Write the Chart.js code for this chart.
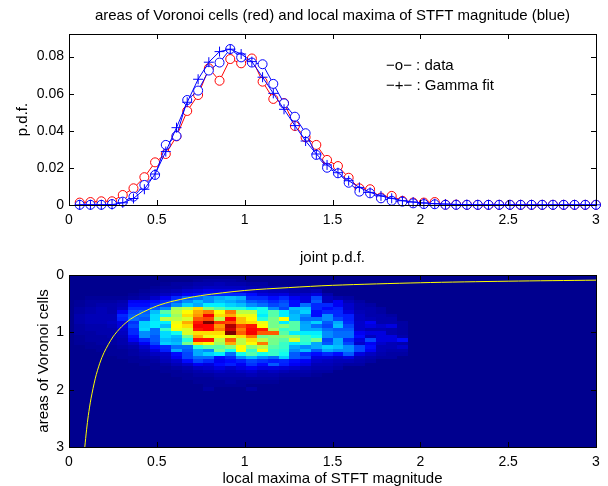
<!DOCTYPE html>
<html>
<head>
<meta charset="utf-8">
<title>Voronoi cells and STFT maxima</title>
<script src="https://cdn.jsdelivr.net/npm/chart.js@4/dist/chart.umd.min.js"></script>
<style>
  html, body { margin: 0; padding: 0; background: #fff; }
  canvas { position: absolute; left: 0; }
  #pdfChart { top: 0; }
  #jointChart { top: 240px; }
</style>
</head>
<body>
<canvas id="pdfChart" width="608" height="240"></canvas>
<canvas id="jointChart" width="608" height="246"></canvas>
<script>
// bin centres
const binCenters = [0.061,0.122,0.184,0.245,0.306,0.367,0.429,0.49,0.551,0.612,0.673,0.735,0.796,0.857,0.918,0.98,1.041,1.102,1.163,1.224,1.286,1.347,1.408,1.469,1.531,1.592,1.653,1.714,1.776,1.837,1.898,1.959,2.02,2.082,2.143,2.204,2.265,2.327,2.388,2.449,2.51,2.571,2.633,2.694,2.755,2.816,2.878,2.939,3];

const voronoiData = [0.0013,0.0016,0.002,0.002,0.0054,0.009,0.015,0.023,0.0275,0.037,0.0507,0.0593,0.0737,0.067,0.0787,0.0764,0.079,0.0665,0.0572,0.055,0.0426,0.0365,0.0324,0.0243,0.021,0.0147,0.009,0.0085,0.004,0.0049,0.0022,0.0013,0.0013,0.0016,0.0002,0.0002,0.0001,0.0001,0.0001,0.0001,0.0001,0.0001,0.0001,0.0001,0.0001,0.0001,0.0001,0.0001,0.0001];
const maximaData = [0.0001,0.0001,0.0001,0.0005,0.0018,0.0045,0.0108,0.0162,0.0324,0.0372,0.0566,0.0617,0.0725,0.0768,0.0841,0.0796,0.0768,0.0759,0.0653,0.0548,0.0476,0.0387,0.027,0.0201,0.0171,0.012,0.0072,0.0063,0.0036,0.0023,0.0018,0.0009,0.0005,0.0004,0.0001,0.0001,0.0001,0.0001,0.0001,0.0001,0.0001,0.0001,0.0001,0.0001,0.0001,0.0001,0.0001,0.0001,0.0001];
const gammaFit = [0.0001,0.0001,0.0001,0.0002,0.0012,0.0035,0.0085,0.0167,0.0288,0.0417,0.0554,0.0678,0.077,0.0827,0.084,0.0814,0.0773,0.0689,0.0602,0.0516,0.0428,0.0345,0.0275,0.0216,0.0174,0.0131,0.0095,0.0068,0.0049,0.0036,0.0023,0.0016,0.0011,0.0007,0.0005,0.0003,0.0002,0.0001,0.0001,0.0001,0.0001,0.0001,0.0001,0.0001,0.0001,0.0001,0.0001,0.0001,0.0001];

const xTicks = [0, 0.5, 1, 1.5, 2, 2.5, 3];
const pdfTicks = [0, 0.02, 0.04, 0.06, 0.08];
const areaTicks = [0, 1, 2, 3];
const legendLines = ['\u2212o\u2212 : data', '\u2212+\u2212 : Gamma fit'];

// yellow curve of the lower plot
const curveX = [0.09,0.1,0.11,0.125,0.15,0.175,0.2,0.25,0.3,0.35,0.4,0.5,0.6,0.75,1,1.25,1.5,2,2.5,3];
const curveY = [3,2.7,2.45,2.16,1.8,1.54,1.35,1.08,0.9,0.77,0.68,0.54,0.45,0.36,0.27,0.22,0.18,0.135,0.108,0.09];

// joint p.d.f., percent of the peak; a row per area bin, a value per magnitude bin, from the first bin on
const jointPdf = [
  [],
  [0,0,0,0,0,0,0,0,0,0,0,1,2,2,2,1],
  [0,0,0,0,0,0,0,0,1,2,2,3,3,4,3,3,2,2],
  [0,0,0,0,0,0,0,1,2,2,3,4,5,5,5,5,4,3,3,2,2,2],
  [0,0,0,0,0,0,1,2,3,4,6,7,9,8,8,7,6,5,4,4,3,3,4],
  [0,0,0,0,0,1,2,3,5,7,10,12,14,15,15,15,12,8,7,8,5,6,8,3],
  [0,1,1,1,1,2,3,6,10,15,20,22,25,28,30,28,15,15,12,15,10,8,18,5,3,2],
  [1,2,2,2,3,10,10,12,15,20,25,30,25,30,28,25,20,18,15,18,12,8,20,5,10,4,2],
  [1,2,3,3,4,12,12,15,18,25,32,28,35,35,32,30,25,22,18,20,12,22,15,15,10,6,3,2],
  [2,3,4,3,5,15,15,20,25,52,55,65,50,45,40,40,35,38,25,18,30,30,15,12,14,6,3,3,2],
  [2,3,4,3,10,18,20,30,45,55,62,70,75,62,75,55,55,38,45,35,28,32,12,15,15,8,4,3,2],
  [3,4,4,4,15,20,22,33,38,52,65,72,88,65,70,60,60,35,45,35,30,25,12,25,15,14,5,3,3,2],
  [3,4,4,4,14,22,20,33,55,55,58,78,80,55,87,68,62,40,48,62,30,22,22,25,18,14,5,4,3,3],
  [3,4,4,5,8,16,32,35,35,60,70,85,100,82,80,68,65,60,48,35,45,27,32,20,28,15,6,10,3,3,2],
  [2,3,3,4,8,18,32,35,30,62,65,88,87,72,95,80,85,62,48,50,45,28,22,18,30,18,6,8,6,8,2],
  [2,3,3,3,6,15,33,22,42,60,58,85,87,75,92,75,87,85,52,42,45,28,28,22,20,20,6,4,4,3,2],
  [2,2,3,3,5,15,25,22,33,38,58,65,65,65,100,78,88,78,78,45,35,35,35,25,22,22,10,8,8,3,2],
  [1,2,2,3,4,12,25,20,33,30,48,70,60,62,60,65,75,48,50,50,50,42,38,25,22,22,12,5,8,8,3],
  [1,2,2,2,3,10,15,20,30,28,40,85,85,55,78,55,65,55,48,45,58,42,48,18,28,15,8,18,8,8,12],
  [1,1,2,2,3,5,10,18,32,30,48,65,62,52,70,55,62,75,48,42,35,40,28,20,28,18,6,10,6,4,3],
  [0,1,1,1,2,3,6,12,15,22,22,40,45,45,50,62,50,55,45,42,28,25,28,32,30,25,18,12,4,4,6],
  [0,0,1,1,1,2,4,8,14,28,20,28,25,48,38,62,42,62,42,40,25,30,20,28,25,25,18,10,4,3,3],
  [0,0,0,1,1,2,3,5,6,12,18,28,32,35,22,38,45,38,42,38,20,15,12,15,12,20,8,5,3,2,2],
  [0,0,0,0,1,1,2,3,5,10,18,22,22,12,15,25,30,25,22,32,20,18,8,8,6,8,4,3,2,2],
  [0,0,0,0,0,1,1,2,4,6,12,18,15,10,12,14,18,16,14,15,12,10,6,5,4,4,3,2],
  [0,0,0,0,0,0,1,1,2,4,6,10,8,12,14,10,16,12,20,14,10,8,4,4,3,2,2],
  [0,0,0,0,0,0,0,1,1,2,3,5,6,8,6,8,10,8,8,7,6,4,3,3,2],
  [0,0,0,0,0,0,0,0,1,1,2,3,4,5,4,5,6,4,5,4,3,3,2,2],
  [0,0,0,0,0,0,0,0,0,1,1,2,2,3,3,3,4,3,3,2,2,2,1],
  [0,0,0,0,0,0,0,0,0,0,1,1,1,2,2,2,2,2,2,1,1],
  [0,0,0,0,0,0,0,0,0,0,0,1,1,1,2,1,1,1,1],
  [0,0,0,0,0,0,0,0,0,0,0,0,1,1,1,1],
  [0,0,0,0,0,0,0,0,0,0,0,0,2,0,0,0,2]
];
const binWidth = 3 / 49;

const fontFamily = '"Liberation Sans", Arial, sans-serif';
const plotLeft = 69;
const plotRightGap = 12;

// matlab "jet"
function jet(pct) {
  const v = pct / 100;
  const ramp = c => Math.round(255 * Math.max(0, Math.min(1, 1.5 - Math.abs(3.95 * v + 0.06 - c))));
  return `rgb(${ramp(3)},${ramp(2)},${ramp(1)})`;
}

// inward ticks on all four sides and the box, like a matlab axes
const boxAxes = {
  id: 'boxAxes',
  afterDraw(chart) {
    const { ctx, chartArea: a, scales } = chart;
    ctx.save();
    ctx.strokeStyle = '#000';
    ctx.lineWidth = 1;
    ctx.beginPath();
    scales.x.ticks.forEach(t => {
      const px = Math.round(scales.x.getPixelForValue(t.value)) + 0.5;
      ctx.moveTo(px, a.top); ctx.lineTo(px, a.top + 5);
      ctx.moveTo(px, a.bottom); ctx.lineTo(px, a.bottom - 5);
    });
    scales.y.ticks.forEach(t => {
      const py = Math.round(scales.y.getPixelForValue(t.value)) + 0.5;
      ctx.moveTo(a.left, py); ctx.lineTo(a.left + 5, py);
      ctx.moveTo(a.right, py); ctx.lineTo(a.right - 5, py);
    });
    ctx.stroke();
    ctx.strokeRect(a.left + 0.5, a.top + 0.5, a.right - a.left, a.bottom - a.top);
    ctx.restore();
  }
};

const legendText = {
  id: 'legendText',
  afterDraw(chart) {
    const { ctx, scales } = chart;
    ctx.save();
    ctx.font = '15px ' + fontFamily;
    ctx.fillStyle = '#000';
    ctx.textBaseline = 'middle';
    legendLines.forEach((line, i) => {
      ctx.fillText(line, scales.x.getPixelForValue(1.805), scales.y.getPixelForValue(0.075 - i * 0.0108));
    });
    ctx.restore();
  }
};

const heatCells = {
  id: 'heatCells',
  beforeDatasetsDraw(chart) {
    const { ctx, chartArea: a, scales } = chart;
    ctx.save();
    ctx.fillStyle = jet(0);
    ctx.fillRect(a.left, a.top, a.right - a.left, a.bottom - a.top);
    jointPdf.forEach((row, r) => {
      const y0 = Math.round(scales.y.getPixelForValue(r * binWidth));
      const y1 = Math.round(scales.y.getPixelForValue((r + 1) * binWidth));
      row.forEach((pct, c) => {
        if (!pct) return;
        const x0 = Math.round(scales.x.getPixelForValue((c + 0.5) * binWidth));
        const x1 = Math.round(scales.x.getPixelForValue((c + 1.5) * binWidth));
        ctx.fillStyle = jet(pct);
        ctx.fillRect(x0, y0, x1 - x0, y1 - y0);
      });
    });
    ctx.restore();
  }
};

const fixedLeft = s => { s.width = plotLeft; };

function xAxis(height, padding, titleText) {
  return {
    type: 'linear', min: 0, max: 3,
    afterBuildTicks: s => { s.ticks = xTicks.map(v => ({ value: v })); },
    afterFit: s => { s.height = height; },
    grid: { display: false, drawTicks: false },
    border: { display: false },
    ticks: { color: '#000', font: { family: fontFamily, size: 14 }, padding, maxRotation: 0, autoSkip: false, callback: v => String(v) },
    title: titleText ? { display: true, text: titleText, color: '#000', font: { family: fontFamily, size: 15 }, padding: { top: 0, bottom: -2 } } : { display: false }
  };
}

function circleSeries(values, color, order) {
  return {
    data: binCenters.map((x, i) => ({ x, y: values[i] })),
    borderColor: color, borderWidth: 1, tension: 0,
    pointStyle: 'circle', pointRadius: 4.5,
    pointBorderColor: color, pointBackgroundColor: '#fff', pointBorderWidth: 1,
    clip: false, order
  };
}

new Chart(document.getElementById('pdfChart'), {
  type: 'line',
  data: {
    datasets: [
      circleSeries(voronoiData, '#ff0000', 3),
      circleSeries(maximaData, '#0000ff', 2),
      {
        data: binCenters.map((x, i) => ({ x, y: gammaFit[i] })),
        borderColor: '#0000ff', borderWidth: 1, tension: 0,
        pointStyle: 'cross', pointRadius: 5,
        pointBorderColor: '#0000ff', pointBorderWidth: 1,
        clip: false, order: 1
      }
    ]
  },
  options: {
    responsive: false, animation: false,
    layout: { padding: { right: plotRightGap } },
    plugins: {
      legend: { display: false }, tooltip: { enabled: false },
      title: {
        display: true, fullSize: false, color: '#000',
        text: 'areas of Voronoi cells (red) and local maxima of STFT magnitude (blue)',
        font: { family: fontFamily, size: 15, weight: 'normal' },
        padding: { top: 7, bottom: 9 }
      }
    },
    scales: {
      x: xAxis(35, 7),
      y: {
        type: 'linear', min: 0, max: 0.0922,
        afterBuildTicks: s => { s.ticks = pdfTicks.map(v => ({ value: v })); },
        afterFit: fixedLeft,
        grid: { display: false, drawTicks: false },
        border: { display: false },
        ticks: { color: '#000', font: { family: fontFamily, size: 14 }, padding: 5, callback: v => String(v) },
        title: { display: true, text: 'p.d.f.', color: '#000', font: { family: fontFamily, size: 15 }, padding: { top: 14, bottom: 0 } }
      }
    }
  },
  plugins: [boxAxes, legendText]
});

new Chart(document.getElementById('jointChart'), {
  type: 'line',
  data: {
    datasets: [{
      data: curveX.map((x, i) => ({ x, y: curveY[i] })),
      borderColor: '#ffff00', borderWidth: 1, tension: 0.3, pointRadius: 0
    }]
  },
  options: {
    responsive: false, animation: false,
    layout: { padding: { right: plotRightGap } },
    plugins: {
      legend: { display: false }, tooltip: { enabled: false },
      title: {
        display: true, fullSize: false, color: '#000',
        text: 'joint p.d.f.',
        font: { family: fontFamily, size: 15, weight: 'normal' },
        padding: { top: 9, bottom: 8 }
      }
    },
    scales: {
      x: xAxis(39, 7, 'local maxima of STFT magnitude'),
      y: {
        type: 'linear', min: 0, max: 3, reverse: true,
        afterBuildTicks: s => { s.ticks = areaTicks.map(v => ({ value: v })); },
        afterFit: fixedLeft,
        grid: { display: false, drawTicks: false },
        border: { display: false },
        ticks: { color: '#000', font: { family: fontFamily, size: 14 }, padding: 5, callback: v => String(v) },
        title: { display: true, text: 'areas of Voronoi cells', color: '#000', font: { family: fontFamily, size: 15 }, padding: { top: 35, bottom: 0 } }
      }
    }
  },
  plugins: [heatCells, boxAxes]
});
</script>
</body>
</html>
